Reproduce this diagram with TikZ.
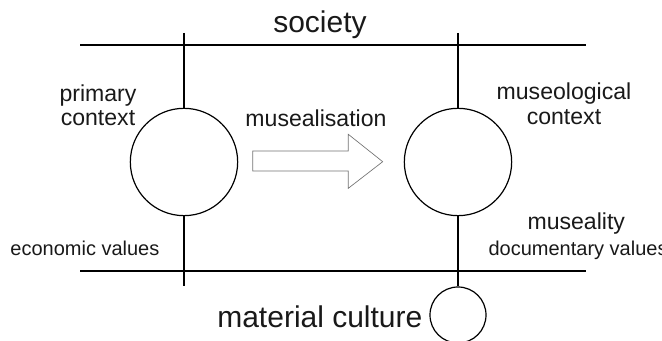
\documentclass[tikz,border=0pt]{standalone}
\usepackage{fontspec}
\setmainfont{Liberation Sans}
\usetikzlibrary{positioning,calc}

\begin{document}
\begin{tikzpicture}[x=0.75pt, y=-0.75pt,
  line width=0.9pt,
  ctx/.style={circle, draw=black, line width=0.9pt, minimum size=80.5pt, inner sep=0pt},
  obj/.style={circle, draw=black, line width=0.9pt, minimum size=42pt, inner sep=0pt},
  bigtext/.style={font=\fontsize{22.5}{27}\selectfont, text=black!90, inner sep=0pt},
  lbl/.style={font=\fontsize{17.3}{18.4}\selectfont, align=center, text=black!90, inner sep=0pt},
  valtext/.style={font=\fontsize{15}{18}\selectfont, text=black!90, inner sep=0pt},
  musarrow/.style={draw=black!55, line width=0.5pt, fill=white}
  ]
  \useasboundingbox (0,0) rectangle (662,341);

  % society and material culture levels
  \coordinate (socL) at (80,45);
  \coordinate (socR) at (586,45);
  \coordinate (matL) at (80,271);
  \coordinate (matR) at (586,271);
  \draw (socL) -- (socR);
  \draw (matL) -- (matR);

  % contexts
  \node[ctx] (prim) at (184,162) {};
  \node[ctx] (mus) at (458,162) {};
  \node[obj] (obj) at (458,315) {};
  \coordinate (primtop) at (184,33);
  \coordinate (primbot) at (184,286);
  \coordinate (mustop) at (458,33);
  \draw (primtop) -- (prim.north);
  \draw (prim.south) -- (primbot);
  \draw (mustop) -- (mus.north);
  \draw (mus.south) -- (obj.north);

  % musealisation arrow
  \draw[musarrow] (252.7,151) -- (348.3,151) -- (348.3,134.3) -- (382.7,161.7)
    -- (348.3,188.3) -- (348.3,171) -- (252.7,171) -- cycle;

  % labels (base = last line)
  \node[bigtext, anchor=base] (society) at (320,33) {society};
  \node[bigtext, anchor=base east] (matcult) at (423,328) {material culture};
  \node[lbl, anchor=base] (primctx) at (98,126) {primary\\context};
  \node[lbl, anchor=base] (musctx) at (564,124.5) {museological\\context};
  \node[lbl, anchor=base] (musealis) at (316,126.5) {musealisation};
  \node[lbl, anchor=base west] (museality) at (527,230) {museality};
  \node[valtext, anchor=base west] (docval) at (488,256) {documentary values};
  \node[valtext, anchor=base east] (ecoval) at (160,256) {economic values};
\end{tikzpicture}
\end{document}
